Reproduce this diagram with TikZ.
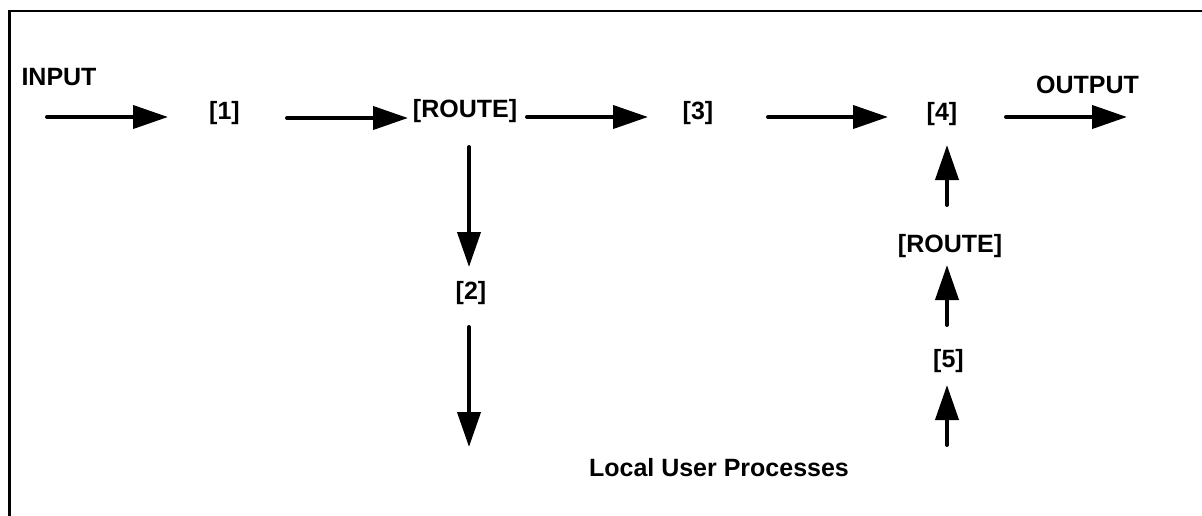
\documentclass[tikz,border=0pt]{standalone}
\usepackage{fontspec}
\setmainfont{Liberation Sans}
\usetikzlibrary{arrows.meta}
\begin{document}
\begin{tikzpicture}[x=1pt,y=-1pt,
  lbl/.style={inner sep=0pt,font=\fontsize{25}{30}\selectfont\bfseries},
  arr/.style={line width=4pt,line cap=round,-{Triangle[length=35pt,width=23pt]}},
  frame/.style={line width=2.5pt}]
\useasboundingbox (0,0) rectangle (1202,515);
\draw[frame] (9.5,520) -- (9.5,11) -- (1210,11);
% labels
\node[lbl] (input) at (59,77.5) {INPUT};
\node[lbl] (output) at (1087.5,85) {OUTPUT};
\node[lbl] (n1) at (224.5,113) {[1]};
\node[lbl] (r1) at (465,111) {[ROUTE]};
\node[lbl] (n3) at (698,113) {[3]};
\node[lbl] (n4) at (942,114) {[4]};
\node[lbl] (n2) at (471,293) {[2]};
\node[lbl] (r2) at (950,246.5) {[ROUTE]};
\node[lbl] (n5) at (948.5,361) {[5]};
\node[lbl] (local) at (719,468) {Local User Processes};
% arrow end points
\coordinate (a1s) at (47,117);   \coordinate (a1e) at (168,117);
\coordinate (a2s) at (287,118);  \coordinate (a2e) at (408,118);
\coordinate (a3s) at (527,117);  \coordinate (a3e) at (648,117);
\coordinate (a4s) at (768,117);  \coordinate (a4e) at (888,117);
\coordinate (a5s) at (1006,117); \coordinate (a5e) at (1127,117);
\coordinate (d1s) at (469,147);  \coordinate (d1e) at (469,267);
\coordinate (d2s) at (469,327);  \coordinate (d2e) at (469,447);
\coordinate (u1s) at (947,445);  \coordinate (u1e) at (947,385);
\coordinate (u2s) at (947,325);  \coordinate (u2e) at (947,265);
\coordinate (u3s) at (947,205);  \coordinate (u3e) at (947,145);
% arrows
\draw[arr] (a1s) -- (a1e);
\draw[arr] (a2s) -- (a2e);
\draw[arr] (a3s) -- (a3e);
\draw[arr] (a4s) -- (a4e);
\draw[arr] (a5s) -- (a5e);
\draw[arr] (d1s) -- (d1e);
\draw[arr] (d2s) -- (d2e);
\draw[arr] (u1s) -- (u1e);
\draw[arr] (u2s) -- (u2e);
\draw[arr] (u3s) -- (u3e);
\end{tikzpicture}
\end{document}
